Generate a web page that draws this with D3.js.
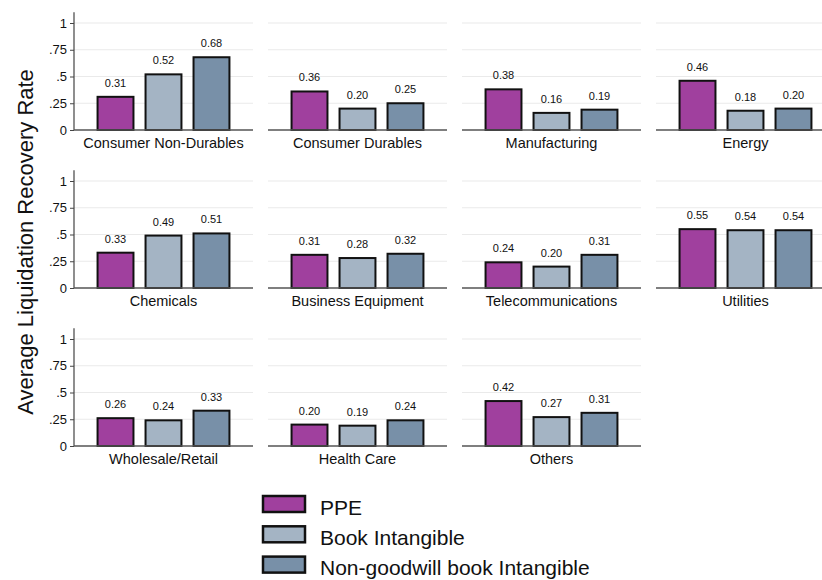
<!DOCTYPE html>
<html>
<head>
<meta charset="utf-8">
<script src="https://cdn.jsdelivr.net/npm/d3@7"></script>
<style>
  html, body { margin: 0; padding: 0; background: #ffffff; }
  svg { display: block; font-family: "Liberation Sans", Arial, sans-serif; }
</style>
</head>
<body>
<svg id="chart" width="822" height="580"></svg>
<script>
// Industry panels, in reading order
const industries = [
  "Consumer Non-Durables", "Consumer Durables", "Manufacturing", "Energy",
  "Chemicals", "Business Equipment", "Telecommunications", "Utilities",
  "Wholesale/Retail", "Health Care", "Others"
];

// Series
const seriesNames = ["PPE", "Book Intangible", "Non-goodwill book Intangible"];
const seriesColors = ["#a0409e", "#a4b4c4", "#7890a8"];

// Average recovery rate per industry, one array per series
const ppe           = [0.31, 0.36, 0.38, 0.46, 0.33, 0.31, 0.24, 0.55, 0.26, 0.20, 0.42];
const bookIntang    = [0.52, 0.20, 0.16, 0.18, 0.49, 0.28, 0.20, 0.54, 0.24, 0.19, 0.27];
const nonGoodwill   = [0.68, 0.25, 0.19, 0.20, 0.51, 0.32, 0.31, 0.54, 0.33, 0.24, 0.31];
const seriesValues = [ppe, bookIntang, nonGoodwill];

// Y axis ticks
const yTicks = [0, 0.25, 0.5, 0.75, 1];
const yTickLabels = ["0", ".25", ".5", ".75", "1"];
const yMax = 1.1;

const yTitle = "Average Liquidation Recovery Rate";

const svg = d3.select("#chart");

const nCols = 4;
const panelLeft0 = 74, panelStepX = 194, panelW = 179;
const panelZero0 = 130, panelStepY = 158, panelH = 117.7;

const x = d3.scaleBand()
  .domain(seriesNames)
  .range([0, panelW])
  .paddingInner(0.21)
  .paddingOuter(0.47);

const y = d3.scaleLinear().domain([0, yMax]).range([panelH, 0]);

industries.forEach((name, i) => {
  const col = i % nCols, row = Math.floor(i / nCols);
  const g = svg.append("g")
    .attr("transform", `translate(${panelLeft0 + col * panelStepX},${panelZero0 + row * panelStepY - panelH})`);

  // light gridlines
  g.selectAll("line.grid")
    .data(yTicks.filter(t => t > 0))
    .join("line")
    .attr("class", "grid")
    .attr("x1", 0).attr("x2", panelW)
    .attr("y1", d => y(d)).attr("y2", d => y(d))
    .attr("stroke", "#eaeaea")
    .attr("stroke-width", 1.2);

  // y axis only on the first column
  if (col === 0) {
    const axis = d3.axisLeft(y)
      .tickValues(yTicks)
      .tickFormat((d, k) => yTickLabels[k])
      .tickSize(4)
      .tickPadding(3);
    const ag = g.append("g").call(axis);
    ag.select(".domain").attr("stroke", "#444").attr("stroke-width", 1.2).attr("d", `M0,0V${panelH}`);
    ag.selectAll(".tick line").attr("stroke", "#444");
    ag.selectAll(".tick text")
      .attr("fill", "#111")
      .style("font-size", "13px")
      .style("font-family", "'Liberation Sans', Arial, sans-serif");
  }

  // bars
  const vals = seriesNames.map((s, k) => ({ s, k, v: seriesValues[k][i] }));
  g.selectAll("rect.bar")
    .data(vals)
    .join("rect")
    .attr("class", "bar")
    .attr("x", d => x(d.s) + 1)
    .attr("width", x.bandwidth() - 2)
    .attr("y", d => y(d.v))
    .attr("height", d => y(0) - y(d.v))
    .attr("fill", d => seriesColors[d.k])
    .attr("stroke", "#111")
    .attr("stroke-width", 2);

  // value labels
  g.selectAll("text.val")
    .data(vals)
    .join("text")
    .attr("class", "val")
    .attr("x", d => x(d.s) + x.bandwidth() / 2)
    .attr("y", d => y(d.v) - 10)
    .attr("text-anchor", "middle")
    .style("font-size", "11px")
    .attr("fill", "#111")
    .text(d => d.v.toFixed(2));

  // baseline
  g.append("line")
    .attr("x1", 0).attr("x2", panelW)
    .attr("y1", y(0)).attr("y2", y(0))
    .attr("stroke", "#555")
    .attr("stroke-width", 1.4);

  // panel title below
  g.append("text")
    .attr("x", panelW / 2)
    .attr("y", y(0) + 18)
    .attr("text-anchor", "middle")
    .style("font-size", "14.5px")
    .attr("fill", "#111")
    .text(name);
});

// y axis title
svg.append("text")
  .attr("transform", "translate(33,242) rotate(-90)")
  .attr("text-anchor", "middle")
  .style("font-size", "22px")
  .attr("fill", "#111")
  .text(yTitle);

// legend
const legend = svg.append("g").attr("transform", "translate(263,496)");
seriesNames.forEach((s, k) => {
  const lg = legend.append("g").attr("transform", `translate(0,${k * 30.3})`);
  lg.append("rect")
    .attr("x", 0).attr("y", 0)
    .attr("width", 42).attr("height", 16)
    .attr("fill", seriesColors[k])
    .attr("stroke", "#111")
    .attr("stroke-width", 2.5);
  lg.append("text")
    .attr("x", 57)
    .attr("y", 18.5)
    .style("font-size", "21px")
    .attr("fill", "#111")
    .text(s);
});
</script>
</body>
</html>
